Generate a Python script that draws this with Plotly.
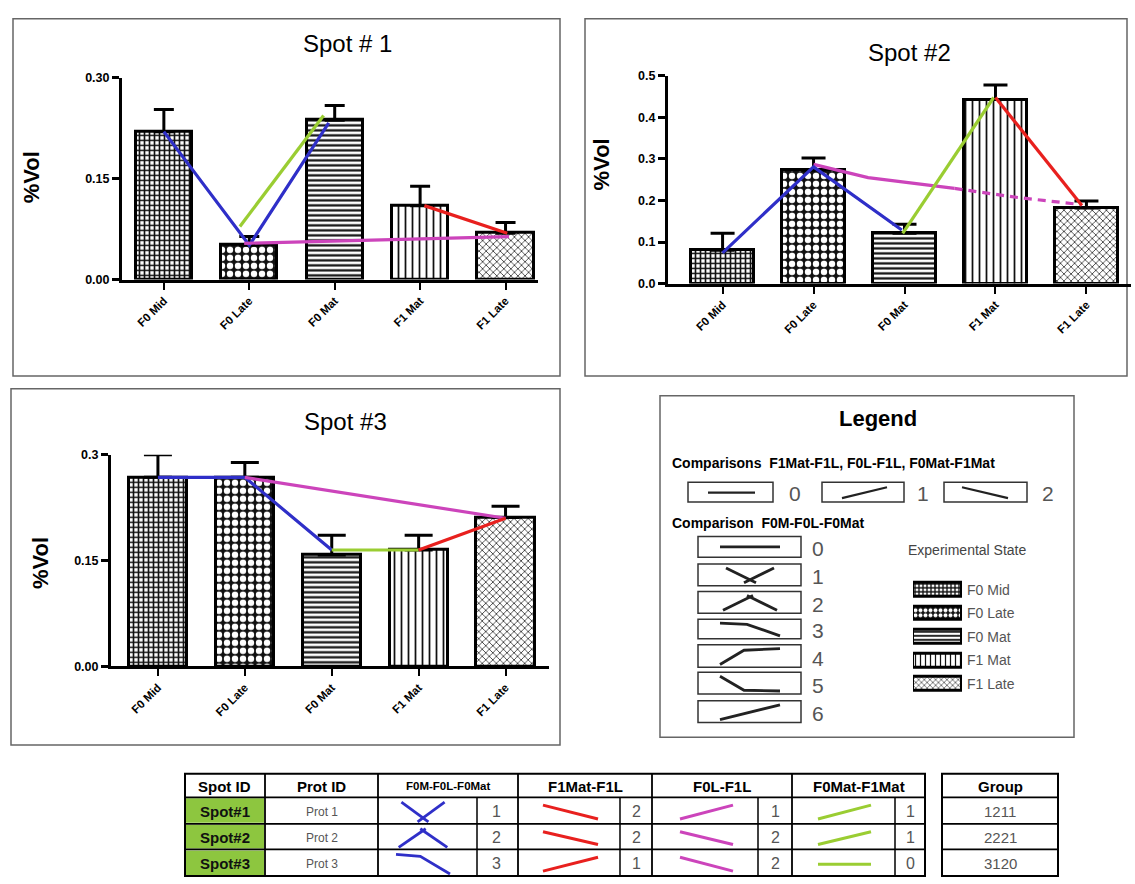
import plotly.graph_objects as go

W, H = 1135, 884

# ---------------- data ----------------
states = ["F0 Mid", "F0 Late", "F0 Mat", "F1 Mat", "F1 Late"]
tick_labels = ["F0 Mid", "F0 Late", "F0 Mat", "F1 Mat", "F1 Late"]

spot1_vol = [0.220, 0.051, 0.237, 0.110, 0.069]
spot1_err = [0.033, 0.013, 0.022, 0.029, 0.016]
spot2_vol = [0.080, 0.273, 0.121, 0.443, 0.182]
spot2_err = [0.041, 0.029, 0.022, 0.035, 0.017]
spot3_vol = [0.268, 0.268, 0.158, 0.165, 0.211]
spot3_err = [0.032, 0.021, 0.028, 0.021, 0.016]

# comparison lines drawn over the bars (x = category index, y = %Vol)
spot1_blue_x, spot1_blue_y = [0, 1, 1.93], [0.220, 0.051, 0.233]
spot1_green_x, spot1_green_y = [0.89, 1.87], [0.079, 0.244]
spot1_red_x, spot1_red_y = [3.05, 4.02], [0.110, 0.069]
spot1_pink_x, spot1_pink_y = [0.94, 4.04], [0.054, 0.064]

spot2_blue_x, spot2_blue_y = [0, 1, 1.97], [0.074, 0.281, 0.129]
spot2_green_x, spot2_green_y = [1.98, 2.98], [0.121, 0.448]
spot2_red_x, spot2_red_y = [3.0, 3.95], [0.448, 0.188]
spot2_pink_x, spot2_pink_y = [1.0, 1.6, 2.55], [0.287, 0.255, 0.229]
spot2_pinkd_x, spot2_pinkd_y = [2.55, 3.25, 3.95], [0.229, 0.207, 0.190]

spot3_blue_x, spot3_blue_y = [0, 1, 2], [0.268, 0.268, 0.165]
spot3_pink_x, spot3_pink_y = [1, 4], [0.268, 0.210]
spot3_green_x, spot3_green_y = [2, 3], [0.165, 0.165]
spot3_red_x, spot3_red_y = [3, 4], [0.165, 0.210]

# summary table
spot_ids = ["Spot#1", "Spot#2", "Spot#3"]
prot_ids = ["Prot 1", "Prot 2", "Prot 3"]
cmp_f0m_f0l_f0mat = [1, 2, 3]
cmp_f1mat_f1l = [2, 2, 1]
cmp_f0l_f1l = [1, 2, 2]
cmp_f0mat_f1mat = [1, 1, 0]
groups = ["1211", "2221", "3120"]

# ---------------- styles ----------------
BLUE, GREEN, RED, PINK = "#2f2fc8", "#9acd32", "#e8201e", "#cc44bb"
pat_shape = ["+", ".", "-", "|", "x"]
pat_fg = ["#111111", "#ffffff", "#111111", "#111111", "#333333"]
pat_bg = ["#ffffff", "#111111", "#ffffff", "#ffffff", "#ffffff"]
pat_size = [5, 8, 5, 7, 5]
pat_sol = [0.55, 0.5, 0.45, 0.25, 0.3]
FONT = "Liberation Sans"


def X(p):
    return p / W


def Y(p):
    return 1 - p / H


xs = list(range(len(states)))
fig = go.Figure()


def add_spot(vol, err, xa, ya, width, capw):
    fig.add_trace(go.Bar(
        x=xs, y=vol, width=width, xaxis=xa, yaxis=ya, showlegend=False,
        marker=dict(color="white", line=dict(color="black", width=3),
                    pattern=dict(shape=pat_shape, fgcolor=pat_fg, bgcolor=pat_bg,
                                 size=pat_size, solidity=pat_sol, fillmode="replace")),
        error_y=dict(type="data", symmetric=False, array=err, arrayminus=[0] * len(err),
                     color="black", thickness=3, width=capw),
        hoverinfo="skip"))


def add_line(x, y, color, xa, ya, dash="solid"):
    fig.add_trace(go.Scatter(x=x, y=y, mode="lines", xaxis=xa, yaxis=ya, showlegend=False,
                             line=dict(color=color, width=3.2, dash=dash), hoverinfo="skip"))


add_spot(spot1_vol, spot1_err, "x", "y", 0.66, 10)
add_line(spot1_blue_x, spot1_blue_y, BLUE, "x", "y")
add_line(spot1_green_x, spot1_green_y, GREEN, "x", "y")
add_line(spot1_red_x, spot1_red_y, RED, "x", "y")
add_line(spot1_pink_x, spot1_pink_y, PINK, "x", "y")

add_spot(spot2_vol, spot2_err, "x2", "y2", 0.70, 12)
add_line(spot2_pink_x, spot2_pink_y, PINK, "x2", "y2")
add_line(spot2_pinkd_x, spot2_pinkd_y, PINK, "x2", "y2", dash="8px,6px")
add_line(spot2_blue_x, spot2_blue_y, BLUE, "x2", "y2")
add_line(spot2_green_x, spot2_green_y, GREEN, "x2", "y2")
add_line(spot2_red_x, spot2_red_y, RED, "x2", "y2")

add_spot(spot3_vol, spot3_err, "x3", "y3", 0.67, 14)
add_line(spot3_blue_x, spot3_blue_y, BLUE, "x3", "y3")
add_line(spot3_pink_x, spot3_pink_y, PINK, "x3", "y3")
add_line(spot3_green_x, spot3_green_y, GREEN, "x3", "y3")
add_line(spot3_red_x, spot3_red_y, RED, "x3", "y3")

# legend swatches (horizontal bars)
fig.add_trace(go.Bar(
    y=xs, x=[1] * len(states), orientation="h", width=0.58, xaxis="x4", yaxis="y4",
    showlegend=False, hoverinfo="skip",
    marker=dict(color="white", line=dict(color="black", width=3),
                pattern=dict(shape=pat_shape, fgcolor=pat_fg, bgcolor=pat_bg,
                             size=[4, 5, 4, 5, 4], solidity=pat_sol, fillmode="replace"))))

tick_font = dict(family=FONT, size=12.5, color="black", weight="bold")
xfont = dict(family=FONT, size=11.5, color="black", weight="bold")


def xaxis(dom, rng, anchor):
    return dict(domain=[X(dom[0]), X(dom[1])], range=rng, anchor=anchor, tickvals=xs,
                ticktext=tick_labels, tickangle=-45, tickfont=xfont, showline=True,
                linewidth=3, linecolor="black", ticks="outside", ticklen=7, tickwidth=2,
                tickcolor="black", showgrid=False, zeroline=False, fixedrange=True)


def yaxis(dom, rng, tv, tt, anchor):
    return dict(domain=[Y(dom[0]), Y(dom[1])], range=rng, anchor=anchor, tickvals=tv,
                ticktext=tt, tickfont=tick_font, showline=True, linewidth=3,
                linecolor="black", ticks="outside", ticklen=7, tickwidth=3,
                tickcolor="black", showgrid=False, zeroline=False, fixedrange=True)


layout = dict(
    width=W, height=H, margin=dict(l=0, r=0, t=0, b=0),
    paper_bgcolor="white", plot_bgcolor="rgba(0,0,0,0)", bargap=0,
    xaxis=xaxis((122, 538), [-0.49, 4.38], "y"),
    yaxis=yaxis((277, 72), [0, 0.30], [0, 0.15, 0.30], ["0.00", "0.15", "0.30"], "x"),
    xaxis2=xaxis((668, 1131), [-0.6, 4.49], "y2"),
    yaxis2=yaxis((281, 70), [0, 0.5], [0, 0.1, 0.2, 0.3, 0.4, 0.5],
                 ["0.0", "0.1", "0.2", "0.3", "0.4", "0.5"], "x2"),
    xaxis3=xaxis((111, 549), [-0.54, 4.5], "y3"),
    yaxis3=yaxis((670, 455), [0, 0.30], [0, 0.15, 0.30], ["0.00", "0.15", "0.3"], "x3"),
    xaxis4=dict(domain=[X(913), X(962)], range=[0, 1], anchor="y4", visible=False),
    yaxis4=dict(domain=[Y(700), Y(580)], range=[4.5, -0.5], anchor="x4", visible=False),
)
fig.update_layout(**layout)

shapes = []
ann = []


def rect(x0, y0, x1, y1, color="#666666", w=1.5, fill=None, layer="below"):
    d = dict(type="rect", xref="paper", yref="paper", x0=X(x0), x1=X(x1), y0=Y(y1), y1=Y(y0),
             line=dict(color=color, width=w), layer=layer)
    if fill:
        d["fillcolor"] = fill
    shapes.append(d)


def line(x0, y0, x1, y1, color="black", w=1.5):
    shapes.append(dict(type="line", xref="paper", yref="paper", x0=X(x0), x1=X(x1),
                       y0=Y(y0), y1=Y(y1), line=dict(color=color, width=w), layer="above"))


def text(x, y, s, size, color="black", bold=False, xanchor="center", angle=0):
    ann.append(dict(x=X(x), y=Y(y), xref="paper", yref="paper", text=s, showarrow=False,
                    xanchor=xanchor, yanchor="middle", textangle=angle,
                    font=dict(family=FONT, size=size, color=color,
                              weight="bold" if bold else "normal")))


# icon definitions: normalized polylines (u: 0..1 left->right, v: 0..1 bottom->top)
ICON2 = {0: [[(0, 0.5), (1, 0.5)]], 1: [[(0, 0), (1, 1)]], 2: [[(0, 1), (1, 0)]]}
ICON3 = {
    0: [[(0, 0.5), (1, 0.5)]],
    1: [[(0.1, 1), (0.6, 0)], [(0.9, 1), (0.4, 0)]],
    2: [[(0.05, 0), (0.55, 1)], [(0.45, 1), (0.95, 0)]],
    3: [[(0, 1), (0.45, 0.9), (1, 0)]],
    4: [[(0, 0), (0.4, 0.9), (1, 1)]],
    5: [[(0, 1), (0.4, 0.05), (1, 0)]],
    6: [[(0, 0), (1, 1)]],
}


def icon(defs, x0, x1, ytop, ybot, color, w):
    for pl in defs:
        pts = [(x0 + u * (x1 - x0), ybot - v * (ybot - ytop)) for u, v in pl]
        path = "M " + " L ".join(f"{X(px):.5f},{Y(py):.5f}" for px, py in pts)
        shapes.append(dict(type="path", xref="paper", yref="paper", path=path,
                           line=dict(color=color, width=w), layer="above"))


# panels
rect(13, 12, 560, 375)
rect(585, 12, 1127, 375)
rect(11, 388, 560, 750)
rect(660, 395, 1074, 742)

text(347, 37, "Spot # 1", 24)
text(909, 46, "Spot #2", 24)
text(345, 421, "Spot #3", 24)
text(31, 173, "%Vol", 22, bold=True, angle=-90)
text(601, 160, "%Vol", 22, bold=True, angle=-90)
text(40, 565, "%Vol", 22, bold=True, angle=-90)

# ---------------- legend ----------------
text(878, 418, "Legend", 22, bold=True)
text(670, 463, "Comparisons  F1Mat-F1L, F0L-F1L, F0Mat-F1Mat", 14, bold=True, xanchor="left")
leg2_boxes = [(688, 773), (822, 904), (944, 1027)]
leg2_num_x = [795, 923, 1048]
leg2_line = [(708, 755), (842, 887), (962, 1008)]
for k, ((bx0, bx1), nx, (lx0, lx1)) in enumerate(zip(leg2_boxes, leg2_num_x, leg2_line)):
    rect(bx0, 483, bx1, 503, color="#333333", w=1.5, layer="above")
    icon(ICON2[k], lx0, lx1, 488, 499, "#222222", 2.2)
    text(nx, 494, str(k), 21, color="#555555")

text(670, 524, "Comparison  F0M-F0L-F0Mat", 14, bold=True, xanchor="left")
leg3_rows = [(538, 559), (566, 588), (594, 616), (622, 642), (648, 671), (676, 698), (705, 727)]
for k, (t, b) in enumerate(leg3_rows):
    rect(698, t, 801, b, color="#333333", w=1.5, layer="above")
    pad = 10 if k == 0 else 4
    icon(ICON3[k], 720, 780, t + pad, b - (pad if k == 0 else 3), "#222222", 2.8)
    text(818, (t + b) / 2 + 2, str(k), 21, color="#555555")

text(967, 552, "Experimental State", 14, color="#444444")
for k, s in enumerate(states):
    text(965, 592 + 24 * k, s, 14, color="#555555", xanchor="left")

# ---------------- table ----------------
cols = [185, 265, 378, 477, 518, 620, 652, 758, 792, 895, 925]
rows = [779, 803, 830, 856, 883]
main_cols = [185, 265, 378, 518, 652, 792, 925]
for r in range(3):
    rect(cols[0] + 1, rows[r + 1] + 1, cols[1] - 1, rows[r + 2] - 1, color="rgba(0,0,0,0)",
         w=0, fill="#8dc63f")
rect(cols[0], rows[0], cols[-1], rows[-1], color="black", w=2, layer="above")
for yy in rows[1:-1]:
    line(cols[0], yy, cols[-1], yy, w=1.8)
for xx in main_cols[1:-1]:
    line(xx, rows[0], xx, rows[-1], w=1.8)
for xx in [477, 620, 758, 895]:
    line(xx, rows[1], xx, rows[-1], w=1.5)

headers = ["Spot ID", "Prot ID", "F0M-F0L-F0Mat", "F1Mat-F1L", "F0L-F1L", "F0Mat-F1Mat"]
hsize = [15, 15, 11.5, 15, 15, 15]
for j, h in enumerate(headers):
    text((main_cols[j] + main_cols[j + 1]) / 2, (rows[0] + rows[1]) / 2 + 1, h, hsize[j], bold=True)

icon_cols = [(396, 450, BLUE, ICON3, cmp_f0m_f0l_f0mat, 497),
             (543, 598, RED, ICON2, cmp_f1mat_f1l, 636),
             (680, 733, PINK, ICON2, cmp_f0l_f1l, 775),
             (818, 871, GREEN, ICON2, cmp_f0mat_f1mat, 910)]
for r in range(3):
    t, b = rows[r + 1], rows[r + 2]
    cy = (t + b) / 2 + 1
    text((cols[0] + cols[1]) / 2, cy, spot_ids[r], 15, color="#111111", bold=True)
    text((cols[1] + cols[2]) / 2, cy, prot_ids[r], 12, color="#555555")
    for (x0, x1, colr, defs, vals, nx) in icon_cols:
        v = vals[r]
        if defs is ICON3:
            icon(defs[v], x0, x1, t + 5, b - 2, colr, 2.8)
        else:
            icon(defs[v], x0, x1, t + 8, b - 5, colr, 3)
        text(nx, cy, str(v), 16, color="#555555")

# group table
gx0, gx1 = 942, 1058
rect(gx0, rows[0], gx1, rows[-1], color="black", w=2, layer="above")
for yy in rows[1:-1]:
    line(gx0, yy, gx1, yy, w=1.8)
text((gx0 + gx1) / 2, (rows[0] + rows[1]) / 2 + 1, "Group", 15, bold=True)
for r in range(3):
    text((gx0 + gx1) / 2, (rows[r + 1] + rows[r + 2]) / 2 + 1, groups[r], 15, color="#555555")

fig.update_layout(shapes=shapes, annotations=ann)
fig.write_html("out.html")
